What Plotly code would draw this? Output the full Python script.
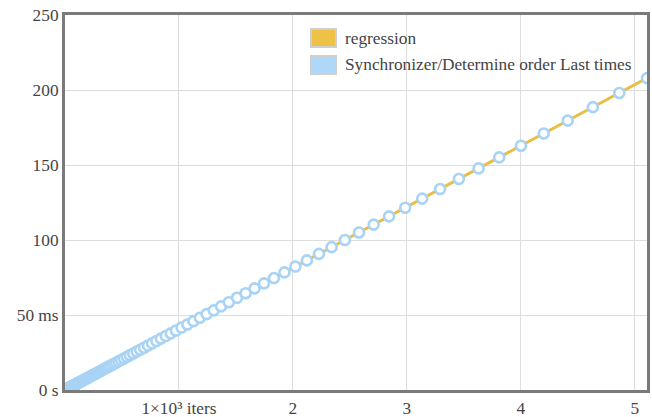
import plotly.graph_objects as go

# Data: iterations per sample and total sample time (ms)
iters = [1, 2, 3, 4, 5, 6, 7, 8, 9, 10, 11, 12, 13, 14, 15, 16, 17, 18, 19, 20,
         21, 22, 23, 24, 25, 26, 27, 28, 29, 30, 32, 34, 36, 38, 40, 42, 44, 46, 48, 50,
         53, 56, 59, 62, 65, 68, 71, 75, 79, 83, 87, 91, 95, 100, 105, 110, 115, 121, 127, 133,
         140, 147, 154, 162, 170, 178, 187, 196, 206, 216, 227, 238, 250, 262, 275, 289, 303, 318, 334, 351,
         369, 387, 406, 426, 447, 469, 492, 517, 543, 570, 599, 629, 660, 693, 728, 764, 802, 842, 884, 928,
         974, 1023, 1074, 1128, 1184, 1243, 1305, 1370, 1438, 1510, 1585, 1664, 1747, 1834, 1926, 2022, 2123, 2229, 2340, 2457,
         2580, 2709, 2844, 2986, 3135, 3292, 3457, 3630, 3811, 4002, 4202, 4412, 4633, 4865, 5108]
times_ms = [0.04, 0.08, 0.12, 0.16, 0.20, 0.24, 0.28, 0.33, 0.37, 0.41, 0.45, 0.49, 0.53, 0.57, 0.61, 0.65, 0.69, 0.73, 0.77, 0.81,
            0.85, 0.90, 0.94, 0.98, 1.02, 1.06, 1.10, 1.14, 1.18, 1.22, 1.30, 1.38, 1.47, 1.55, 1.63, 1.71, 1.79, 1.87, 1.95, 2.04,
            2.16, 2.28, 2.40, 2.52, 2.65, 2.77, 2.89, 3.05, 3.22, 3.38, 3.54, 3.70, 3.87, 4.07, 4.27, 4.48, 4.68, 4.92, 5.17, 5.41,
            5.70, 5.98, 6.27, 6.59, 6.92, 7.24, 7.61, 7.98, 8.38, 8.79, 9.24, 9.69, 10.18, 10.66, 11.19, 11.76, 12.33, 12.94, 13.59, 14.29,
            15.02, 15.75, 16.52, 17.34, 18.19, 19.09, 20.02, 21.04, 22.10, 23.20, 24.38, 25.60, 26.86, 28.21, 29.63, 31.09, 32.64, 34.27, 35.98, 37.77,
            39.64, 41.64, 43.71, 45.91, 48.19, 50.59, 53.11, 55.76, 58.53, 61.46, 64.51, 67.72, 71.10, 74.64, 78.39, 82.30, 86.41, 90.72, 95.24, 100.00,
            105.01, 110.26, 115.75, 121.53, 127.59, 133.98, 140.70, 147.74, 155.11, 162.88, 171.02, 179.57, 188.56, 198.01, 207.90]

regression_x = [0, 5108]
regression_y = [0, 207.9]

x_tick_vals = [1000, 2000, 3000, 4000, 5000]
x_tick_text = ["1×10³ iters", "2", "3", "4", "5"]
y_tick_vals = [0, 50, 100, 150, 200, 250]
y_tick_text = ["0 s", "50 ms", "100", "150", "200", "250"]

legend_names = ["regression", "Synchronizer/Determine order Last times"]

FONT = "Liberation Serif"
TEXT_COLOR = "#444444"
YELLOW = "#EDC246"
BLUE = "#AFD7F7"

fig = go.Figure()
fig.add_trace(go.Scatter(x=regression_x, y=regression_y, mode="lines",
                         line=dict(color="#E9BE48", width=3), name=legend_names[0],
                         showlegend=False))
fig.add_trace(go.Scatter(x=iters, y=times_ms, mode="markers",
                         marker=dict(size=10, color="white", line=dict(color="#A9D3F5", width=2.6)),
                         name=legend_names[1], showlegend=False))

L, R, T, B = 65, 5, 15, 27
W, H = 652, 417
pw, ph = W - L - R, H - T - B

def px_x(p):
    return (p - L) / pw

def px_y(p):
    return (H - B - p) / ph

shapes = []
annotations = []
swatches = [(29, 47, YELLOW), (56, 74, BLUE)]
for (top, bot, col), name in zip(swatches, legend_names):
    shapes.append(dict(type="rect", xref="paper", yref="paper",
                       x0=px_x(311), x1=px_x(336), y0=px_y(bot), y1=px_y(top),
                       fillcolor=col, line=dict(color="#CFCFCF", width=2)))
    annotations.append(dict(xref="paper", yref="paper", x=px_x(343), y=px_y((top + bot) / 2),
                            xanchor="left", yanchor="middle", showarrow=False, text=name,
                            font=dict(family=FONT, size=17.3, color=TEXT_COLOR)))

fig.update_layout(
    width=W, height=H,
    margin=dict(l=L, r=R, t=T, b=B, pad=0, autoexpand=False),
    paper_bgcolor="white", plot_bgcolor="white",
    font=dict(family=FONT, size=17.3, color=TEXT_COLOR),
    shapes=shapes, annotations=annotations,
    showlegend=False,
)
fig.update_xaxes(range=[0, 5108], tickvals=x_tick_vals, ticktext=x_tick_text,
                 showgrid=True, gridcolor="#DDDDDD", gridwidth=1, zeroline=False, automargin=False,
                 showline=True, linecolor="#7A7A7A", linewidth=3, mirror=True, ticks="")
fig.update_yaxes(range=[0, 250], tickvals=y_tick_vals, ticktext=y_tick_text,
                 showgrid=True, gridcolor="#DDDDDD", gridwidth=1, zeroline=False, automargin=False,
                 showline=True, linecolor="#7A7A7A", linewidth=3, mirror=True, ticks="")

fig.write_html("out.html")
